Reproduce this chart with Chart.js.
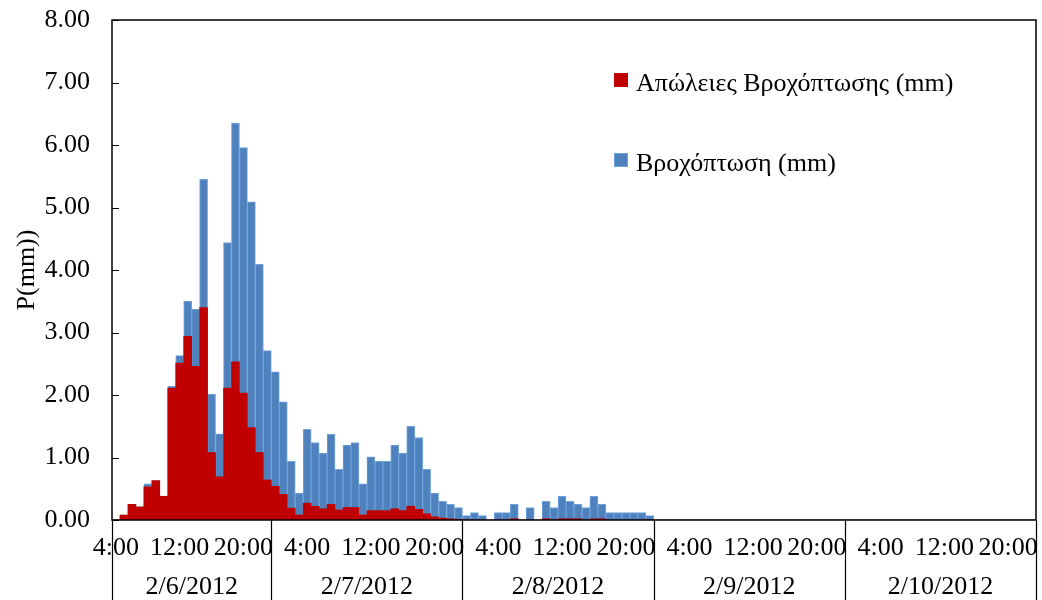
<!DOCTYPE html>
<html>
<head>
<meta charset="utf-8">
<script src="https://cdn.jsdelivr.net/npm/chart.js@4.4.1/dist/chart.umd.min.js"></script>
<style>
  body { margin: 0; background: #fff; }
  #wrap { width: 1042px; height: 600px; position: relative; }
</style>
</head>
<body>
<div id="wrap"><canvas id="myChart"></canvas></div>
<script>
// days on the axis and the first hour shown on the first day
const days = ["2/6/2012", "2/7/2012", "2/8/2012", "2/9/2012", "2/10/2012"];
const firstHour = 4;

// hourly rainfall (mm)
const rainfall = [
  0, 0.08, 0.25, 0.21, 0.58, 0.63, 0.38, 2.14, 2.63, 3.50, 3.37, 5.45, 2.01, 1.38, 4.44, 6.35, 5.96, 5.09, 4.09, 2.71,
  2.37, 1.89, 0.94, 0.43, 1.45, 1.24, 1.07, 1.37, 0.81, 1.20, 1.24, 0.58, 1.01, 0.94, 0.94, 1.20, 1.07, 1.50, 1.32, 0.81, 0.43, 0.30, 0.25, 0.20,
  0.07, 0.12, 0.07, 0, 0.12, 0.12, 0.25, 0, 0.20, 0, 0.30, 0.20, 0.38, 0.30, 0.25, 0.20, 0.38, 0.25, 0.12, 0.12, 0.12, 0.12, 0.12, 0.07,
  0, 0, 0, 0, 0, 0, 0, 0, 0, 0, 0, 0, 0, 0, 0, 0, 0, 0, 0, 0, 0, 0, 0, 0,
  0, 0, 0, 0, 0, 0, 0, 0, 0, 0, 0, 0, 0, 0, 0, 0, 0, 0, 0, 0, 0, 0, 0, 0
];

// hourly rainfall losses (mm)
const losses = [
  0, 0.08, 0.25, 0.21, 0.53, 0.63, 0.38, 2.11, 2.51, 2.94, 2.46, 3.40, 1.08, 0.69, 2.11, 2.53, 2.03, 1.48, 1.08, 0.64,
  0.54, 0.41, 0.19, 0.08, 0.27, 0.22, 0.18, 0.25, 0.16, 0.20, 0.20, 0.08, 0.15, 0.15, 0.15, 0.18, 0.15, 0.22, 0.17, 0.10, 0.05, 0.03, 0.02, 0.01,
  0, 0, 0, 0, 0, 0, 0.02, 0, 0, 0, 0.02, 0, 0.02, 0.02, 0.02, 0, 0.02, 0.02, 0, 0, 0, 0, 0, 0,
  0, 0, 0, 0, 0, 0, 0, 0, 0, 0, 0, 0, 0, 0, 0, 0, 0, 0, 0, 0, 0, 0, 0, 0,
  0, 0, 0, 0, 0, 0, 0, 0, 0, 0, 0, 0, 0, 0, 0, 0, 0, 0, 0, 0, 0, 0, 0, 0
];

const yTicks = [0, 1, 2, 3, 4, 5, 6, 7, 8];
const seriesNames = ["Απώλειες Βροχόπτωσης (mm)", "Βροχόπτωση (mm)"];
const yTitle = "P(mm))";

// build the hourly categories, remember where each day starts
const labels = [];
const hourLabels = [];
const dayStarts = [];
days.forEach((day, d) => {
  dayStarts.push(labels.length);
  for (let h = d === 0 ? firstHour : 0; h < 24; h++) {
    labels.push(day + " " + h + ":00");
    hourLabels.push(h + ":00");
  }
});
dayStarts.push(labels.length);

const FONT = "'Liberation Serif', 'Times New Roman', serif";

// axis lines, day separators, day labels, inner ticks and legend
const excelLook = {
  id: "excelLook",
  afterDraw(chart) {
    const ctx = chart.ctx;
    const area = chart.chartArea;
    const x = chart.scales.x;
    const y = chart.scales.y;
    const half = (x.getPixelForValue(1) - x.getPixelForValue(0)) / 2;
    const edge = (i) => i < labels.length ? x.getPixelForValue(i) - half : x.getPixelForValue(labels.length - 1) + half;

    ctx.save();
    ctx.strokeStyle = "#000";
    ctx.lineWidth = 1.5;
    ctx.strokeRect(area.left, area.top, area.right - area.left, area.bottom - area.top);

    // day separators below the axis
    ctx.lineWidth = 1.2;
    ctx.beginPath();
    dayStarts.forEach((i) => {
      const px = Math.round(edge(i)) + 0.5;
      ctx.moveTo(px, area.bottom);
      ctx.lineTo(px, chart.height);
    });
    ctx.stroke();

    // inner y ticks
    ctx.beginPath();
    yTicks.forEach((v) => {
      const py = Math.round(y.getPixelForValue(v)) + 0.5;
      ctx.moveTo(area.left, py);
      ctx.lineTo(area.left + 7, py);
    });
    ctx.stroke();

    // day labels
    ctx.fillStyle = "#000";
    ctx.font = "26px " + FONT;
    ctx.textAlign = "center";
    ctx.textBaseline = "alphabetic";
    days.forEach((day, d) => {
      const cx = (edge(dayStarts[d]) + edge(dayStarts[d + 1])) / 2;
      ctx.fillText(day, cx, 594);
    });

    // legend
    ctx.textAlign = "left";
    chart.data.datasets.forEach((ds, i) => {
      const lx = area.left + 502;
      const ly = area.top + 53 + i * 80;
      ctx.fillStyle = ds.backgroundColor;
      ctx.fillRect(lx, ly, 14, 14);
      if (ds.borderWidth) {
        ctx.strokeStyle = ds.borderColor;
        ctx.lineWidth = 1;
        ctx.strokeRect(lx + 0.5, ly + 0.5, 13, 13);
      }
      ctx.fillStyle = "#000";
      ctx.fillText(ds.label, lx + 22, ly + 18);
    });
    ctx.restore();
  },
};

new Chart(document.getElementById("myChart"), {
  type: "bar",
  data: {
    labels: labels,
    datasets: [
      {
        label: seriesNames[0],
        data: losses,
        backgroundColor: "#C00000",
        borderWidth: 0,
      },
      {
        label: seriesNames[1],
        data: rainfall,
        backgroundColor: "#4F81BD",
        borderColor: "#6FA3DE",
        borderWidth: 1,
      },
    ],
  },
  options: {
    responsive: true,
    maintainAspectRatio: false,
    animation: false,
    layout: { padding: { top: 20, right: 6, left: 0, bottom: 0 } },
    datasets: {
      bar: { grouped: false, barPercentage: 1, categoryPercentage: 1 },
    },
    plugins: {
      legend: { display: false },
      tooltip: { enabled: false },
    },
    scales: {
      x: {
        grid: { display: false },
        border: { display: false },
        ticks: {
          autoSkip: false,
          maxRotation: 0,
          minRotation: 0,
          padding: 5,
          color: "#000",
          font: { family: FONT, size: 26 },
          callback: (val, index) => (index % 8 === 0 ? hourLabels[index] : ""),
        },
        afterFit(scale) {
          scale.height = 80;
          scale.paddingLeft = 0;
          scale.paddingRight = 0;
        },
      },
      y: {
        min: 0,
        max: 8,
        grid: { display: false },
        border: { display: false },
        ticks: {
          stepSize: 1,
          padding: 14,
          color: "#000",
          font: { family: FONT, size: 26 },
          callback: (v) => Number(v).toFixed(2),
        },
        title: {
          display: true,
          text: yTitle,
          color: "#000",
          font: { family: FONT, size: 26 },
          padding: { top: 12, bottom: 0 },
        },
        afterFit(scale) {
          scale.width = 112;
          scale.paddingTop = 0;
          scale.paddingBottom = 0;
        },
      },
    },
  },
  plugins: [excelLook],
});
</script>
</body>
</html>
